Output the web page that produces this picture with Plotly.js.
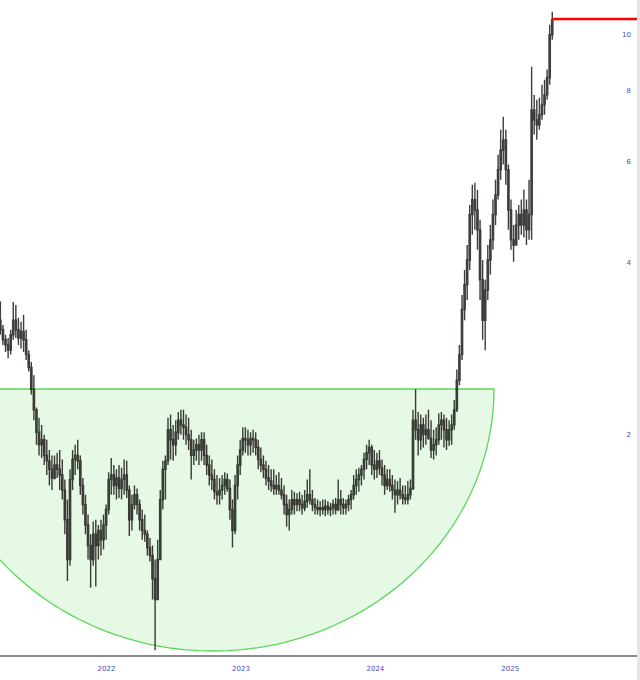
<!DOCTYPE html>
<html>
<head>
<meta charset="utf-8">
<script src="https://cdn.plot.ly/plotly-3.0.1.min.js"></script>
<style>html,body{margin:0;padding:0;background:#fff;}#chart{width:640px;height:680px;}</style>
</head>
<body>
<div id="chart"></div>
<script>
// Weekly OHLC, first week starting 2021-03-19
const startDate = '2021-03-19';
const open = [
3.17,3.05,2.93,2.87,2.81,2.99,3.17,3.05,2.95,3.03,
2.93,2.76,2.62,2.40,2.21,2.02,1.92,1.96,1.84,1.80,
1.74,1.68,1.77,1.74,1.70,1.60,1.42,1.21,1.67,1.81,
1.84,1.80,1.63,1.51,1.39,1.28,1.21,1.34,1.28,1.36,
1.31,1.39,1.48,1.67,1.70,1.63,1.68,1.61,1.67,1.70,
1.60,1.42,1.51,1.57,1.51,1.42,1.36,1.34,1.27,1.23,
1.12,1.03,1.21,1.54,1.74,1.80,2.04,1.96,1.92,2.02,
2.12,2.08,2.06,2.00,1.96,1.84,1.88,1.92,1.88,1.96,
1.84,1.77,1.70,1.67,1.59,1.57,1.60,1.63,1.67,1.61,
1.48,1.36,1.63,1.77,1.88,1.97,1.96,1.92,1.97,1.96,
1.90,1.81,1.77,1.74,1.68,1.66,1.63,1.61,1.63,1.60,
1.57,1.51,1.45,1.48,1.54,1.51,1.54,1.51,1.49,1.53,
1.57,1.54,1.51,1.49,1.48,1.49,1.48,1.50,1.48,1.49,
1.51,1.48,1.54,1.51,1.49,1.51,1.54,1.57,1.63,1.67,
1.70,1.74,1.81,1.86,1.90,1.77,1.74,1.80,1.75,1.70,
1.63,1.67,1.63,1.60,1.57,1.60,1.57,1.55,1.54,1.57,
1.61,2.12,2.04,1.96,2.08,2.00,2.04,1.97,1.88,1.92,
1.96,2.08,2.12,2.04,1.96,2.04,2.08,2.21,2.49,2.76,
3.31,3.66,4.04,4.85,5.15,4.94,4.56,3.73,3.17,3.58,
4.04,4.38,4.85,5.25,5.81,6.29,6.55,5.81,4.94,4.38,
4.29,4.65,4.85,4.65,4.94,4.56,4.85,7.39,7.10,6.96,
7.25,7.54,7.85,8.41,10.00];
const high = [
3.42,3.11,2.99,2.95,3.05,3.41,3.37,3.20,3.15,3.24,
3.05,2.81,2.68,2.54,2.23,2.14,2.08,2.00,1.96,1.88,
1.84,1.84,1.86,1.88,1.81,1.67,1.54,1.74,1.88,1.92,
1.96,1.84,1.68,1.57,1.45,1.34,1.41,1.42,1.39,1.42,
1.45,1.51,1.72,1.82,1.77,1.74,1.77,1.75,1.81,1.80,
1.63,1.57,1.63,1.61,1.54,1.48,1.45,1.36,1.32,1.28,
1.21,1.31,1.60,1.80,1.84,2.14,2.17,2.08,2.12,2.19,
2.21,2.21,2.17,2.14,2.04,1.96,1.97,2.00,2.02,2.02,
1.92,1.84,1.81,1.74,1.70,1.68,1.70,1.72,1.71,1.67,
1.54,1.70,1.84,1.96,2.06,2.06,2.04,2.02,2.04,2.02,
1.96,1.90,1.84,1.80,1.77,1.74,1.74,1.70,1.72,1.68,
1.63,1.57,1.54,1.60,1.59,1.58,1.59,1.57,1.60,1.67,
1.74,1.60,1.55,1.54,1.53,1.54,1.54,1.53,1.52,1.54,
1.55,1.67,1.60,1.55,1.54,1.57,1.60,1.70,1.74,1.75,
1.77,1.86,1.92,1.96,1.92,1.88,1.86,1.88,1.81,1.77,
1.74,1.74,1.70,1.67,1.66,1.68,1.63,1.63,1.66,1.67,
2.21,2.40,2.19,2.17,2.14,2.17,2.21,2.12,2.04,2.06,
2.18,2.19,2.17,2.14,2.12,2.17,2.30,2.60,2.87,3.51,
3.88,4.29,5.04,5.47,5.51,5.36,4.75,4.04,3.73,4.29,
4.65,5.15,5.58,6.17,6.82,7.19,6.82,5.93,5.15,4.65,
4.94,5.04,5.15,5.36,5.15,5.58,8.79,7.85,7.70,7.76,
8.18,8.34,8.69,10.41,10.97];
const low = [
2.99,2.87,2.79,2.72,2.76,2.93,2.95,2.87,2.83,2.79,
2.70,2.58,2.35,2.12,1.92,1.84,1.82,1.77,1.70,1.63,
1.60,1.67,1.68,1.60,1.54,1.34,1.11,1.18,1.60,1.70,
1.74,1.57,1.45,1.34,1.21,1.08,1.18,1.085,1.21,1.23,
1.26,1.31,1.45,1.57,1.57,1.54,1.55,1.54,1.57,1.55,
1.33,1.36,1.48,1.45,1.36,1.31,1.30,1.23,1.20,1.03,
0.84,1.03,1.21,1.48,1.54,1.77,1.81,1.80,1.84,1.96,
2.00,1.96,1.92,1.88,1.67,1.77,1.80,1.77,1.80,1.77,
1.70,1.63,1.60,1.54,1.51,1.51,1.54,1.57,1.59,1.42,
1.27,1.34,1.54,1.70,1.84,1.86,1.84,1.84,1.86,1.84,
1.74,1.72,1.68,1.63,1.60,1.59,1.57,1.57,1.57,1.54,
1.45,1.38,1.36,1.45,1.45,1.47,1.47,1.45,1.47,1.49,
1.51,1.47,1.45,1.45,1.44,1.45,1.44,1.45,1.44,1.45,
1.45,1.47,1.45,1.45,1.45,1.47,1.48,1.54,1.57,1.59,
1.63,1.67,1.74,1.77,1.70,1.67,1.68,1.70,1.63,1.57,
1.60,1.59,1.54,1.46,1.51,1.54,1.51,1.51,1.51,1.54,
1.60,1.96,1.84,1.88,1.90,1.92,1.96,1.82,1.81,1.84,
1.92,1.96,1.90,1.88,1.91,1.92,2.04,2.19,2.44,2.70,
3.17,3.44,3.88,4.47,4.56,4.21,3.44,2.93,2.81,3.44,
3.81,4.21,4.65,5.15,5.58,5.93,5.47,4.56,4.21,4.01,
4.29,4.38,4.47,4.42,4.29,4.38,4.38,6.69,6.55,6.82,
7.10,7.25,7.70,8.18,9.80];
const close = [
3.05,2.93,2.87,2.81,2.99,3.17,3.05,2.95,3.03,2.93,
2.76,2.62,2.40,2.21,2.02,1.92,1.96,1.84,1.80,1.74,
1.68,1.77,1.74,1.70,1.60,1.42,1.21,1.67,1.81,1.84,
1.80,1.63,1.51,1.39,1.28,1.21,1.34,1.28,1.36,1.31,
1.39,1.48,1.67,1.70,1.63,1.68,1.61,1.67,1.70,1.60,
1.42,1.51,1.57,1.51,1.42,1.36,1.34,1.27,1.23,1.12,
1.03,1.21,1.54,1.74,1.80,2.04,1.96,1.92,2.02,2.12,
2.08,2.06,2.00,1.96,1.84,1.88,1.92,1.88,1.96,1.84,
1.77,1.70,1.67,1.59,1.57,1.60,1.63,1.67,1.61,1.48,
1.36,1.63,1.77,1.88,1.97,1.96,1.92,1.97,1.96,1.90,
1.81,1.77,1.74,1.68,1.66,1.63,1.61,1.63,1.60,1.57,
1.51,1.45,1.48,1.54,1.51,1.54,1.51,1.49,1.53,1.57,
1.54,1.51,1.49,1.48,1.49,1.48,1.50,1.48,1.49,1.51,
1.48,1.54,1.51,1.49,1.51,1.54,1.57,1.63,1.67,1.70,
1.74,1.81,1.86,1.90,1.77,1.74,1.80,1.75,1.70,1.63,
1.67,1.63,1.60,1.57,1.60,1.57,1.55,1.54,1.57,1.61,
2.12,2.04,1.96,2.08,2.00,2.04,1.97,1.88,1.92,1.96,
2.08,2.12,2.04,1.96,2.04,2.08,2.21,2.49,2.76,3.31,
3.66,4.04,4.85,5.15,4.94,4.56,3.73,3.17,3.58,4.04,
4.38,4.85,5.25,5.81,6.29,6.55,5.81,4.94,4.38,4.29,
4.65,4.85,4.65,4.94,4.56,4.85,7.39,7.10,6.96,7.25,
7.54,7.85,8.41,10.00,10.62];
const yTicks = [2, 4, 6, 8, 10];
const xTickYears = ['2022', '2023', '2024', '2025'];
const resistanceLevel = 10.65;

// weekly dates
const dates = [];
const t0 = Date.parse(startDate + 'T00:00:00Z');
for (let i = 0; i < close.length; i++) {
  dates.push(new Date(t0 + i * 7 * 86400000).toISOString().slice(0, 10));
}
const xStart = '2021-03-18';
const xEnd = '2025-12-11';

// cup (rounded-bottom) drawing in paper coordinates
const cup = {cx: 0.3344, rimY: 0.4061, rx: 0.4411, ry: 0.400};
let cupPath = '';
const nSeg = 120;
for (let k = 0; k <= nSeg; k++) {
  const a = Math.PI + Math.PI * k / nSeg;
  const px = cup.cx + cup.rx * Math.cos(a);
  const py = cup.rimY + cup.ry * Math.sin(a);
  cupPath += (k === 0 ? 'M' : 'L') + px.toFixed(5) + ',' + py.toFixed(5) + ' ';
}
cupPath += 'Z';

const trace = {
  type: 'candlestick',
  x: dates, open: open, high: high, low: low, close: close,
  increasing: {line: {color: '#1f261f', width: 1.4}, fillcolor: '#2a6e30'},
  decreasing: {line: {color: '#261f1f', width: 1.4}, fillcolor: '#7a4848'},
  whiskerwidth: 0,
  opacity: 0.88,
  hoverinfo: 'skip',
  showlegend: false
};

const layout = {
  width: 640, height: 680,
  margin: {l: 0, r: 3, t: 0, b: 25, pad: 0},
  paper_bgcolor: '#ffffff', plot_bgcolor: '#ffffff',
  showlegend: false,
  xaxis: {
    type: 'date', range: [xStart, xEnd],
    rangeslider: {visible: false},
    showgrid: false, zeroline: false,
    showline: true, linecolor: '#8a8a8a', linewidth: 2,
    tickvals: xTickYears.map(y => y + '-01-01'),
    ticktext: xTickYears,
    ticks: '', ticklabelstandoff: 6,
    tickfont: {family: 'DejaVu Sans', size: 7, color: '#4a4ab8'},
    fixedrange: true
  },
  yaxis: {
    type: 'log', side: 'right',
    range: [Math.log10(0.824), Math.log10(11.5)],
    showgrid: false, zeroline: false, showline: false,
    tickvals: yTicks, ticktext: yTicks.map(String),
    ticks: '', ticklabelposition: 'inside', ticklabelstandoff: 3,
    tickfont: {family: 'DejaVu Sans', size: 7, color: '#4a4ab8'},
    fixedrange: true
  },
  shapes: [
    {type: 'path', xref: 'paper', yref: 'paper', path: cupPath,
     fillcolor: 'rgba(150,230,150,0.25)', line: {color: '#5cd65c', width: 1.3}, layer: 'below'},
    {type: 'line', xref: 'x', yref: 'y', x0: dates[dates.length - 1], x1: xEnd,
     y0: resistanceLevel, y1: resistanceLevel, line: {color: '#ff0000', width: 2.5}},
    {type: 'rect', xref: 'paper', yref: 'paper', x0: 1, x1: 1.0048, y0: -0.04, y1: 1,
     fillcolor: '#e6e6e6', line: {width: 0}}
  ]
};

Plotly.newPlot('chart', [trace], layout, {staticPlot: true, displayModeBar: false});
</script>
</body>
</html>
